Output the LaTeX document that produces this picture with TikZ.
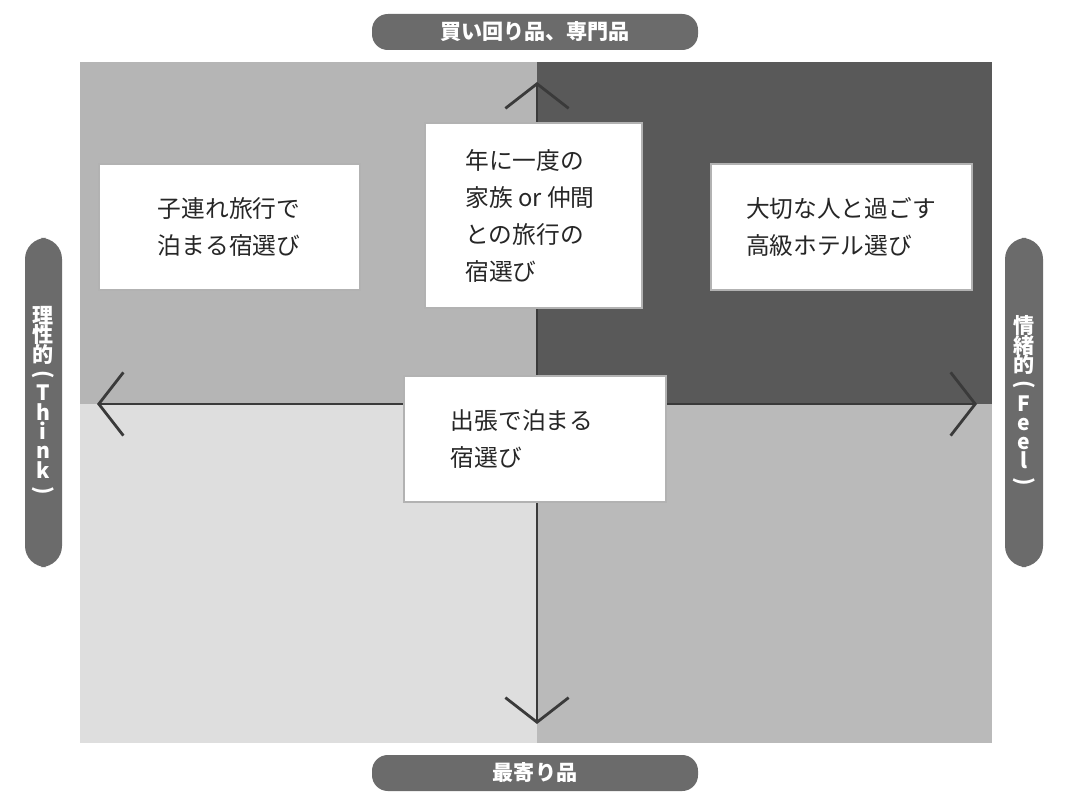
\documentclass[tikz,border=0pt]{standalone}
\usepackage{fontspec}
\setmainfont{Noto Sans CJK JP}
\usepackage{graphicx}
\usetikzlibrary{arrows.meta}
\definecolor{pillgray}{HTML}{6B6B6B}
\definecolor{axisgray}{HTML}{3A3A3A}
\newcommand{\vpar}[1]{\rotatebox[origin=c]{-90}{#1}}

\begin{document}
\begin{tikzpicture}[x=0.02cm,y=-0.02cm]
        \tikzset{
            pill/.style={fill=pillgray, rounded corners=9pt},
            pilltext/.style={text=white, font=\bfseries\fontsize{12}{13}\selectfont},
            card/.style={fill=white, draw=gray!60, line width=0.6pt},
            cardtext/.style={align=left, font=\fontsize{13.5}{21}\selectfont, text=black!85},
            axis/.style={draw=axisgray, line width=1.6pt, {Straight Barb[length=14pt,width=36pt]}-{Straight Barb[length=14pt,width=36pt]}}
        }
        \useasboundingbox (0,0) rectangle (1067,803);
        % quadrants
        \fill[black!29] (80,62) rectangle (537,404);
        \fill[black!65] (537,62) rectangle (992,404);
        \fill[black!13] (80,404) rectangle (537,743);
        \fill[black!27] (537,404) rectangle (992,743);
        % axes
        \coordinate (north) at (537,82);
        \coordinate (south) at (537,724);
        \coordinate (west) at (97,404);
        \coordinate (east) at (977,404);
        \draw[axis] (north) -- (south);
        \draw[axis] (west) -- (east);
        % pills
        \fill[pill] (372,14) rectangle (698,50);
        \node[pilltext] (top) at (535,32) {買い回り品、専門品};
        \fill[pill] (372,755) rectangle (698,791);
        \node[pilltext] (bottom) at (535,773) {最寄り品};
        \fill[pill,rounded corners=12pt] (25,238) rectangle (62,567);
        \node[pilltext, align=center, inner sep=0pt] (left) at (43,402)
            {理\\[-2pt]性\\[-2pt]的\\[-2pt]\vpar{(}\\[-2pt]T\\[-2pt]h\\[-2pt]i\\[-2pt]n\\[-2pt]k\\[-2pt]\vpar{)}};
        \fill[pill,rounded corners=12pt] (1005,238) rectangle (1043,567);
        \node[pilltext, align=center, inner sep=0pt] (right) at (1024,402)
            {情\\[-2pt]緒\\[-2pt]的\\[-2pt]\vpar{(}\\[-2pt]F\\[-2pt]e\\[-2pt]e\\[-2pt]l\\[-2pt]\vpar{)}};
        % cards
        \draw[card] (99,164) rectangle (360,290);
        \node[cardtext] (family) at (229,227) {子連れ旅行で\\泊まる宿選び};
        \draw[card] (425,123) rectangle (642,308);
        \node[cardtext] (yearly) at (530,216) {年に一度の\\家族 or 仲間\\との旅行の\\宿選び};
        \draw[card] (711,164) rectangle (972,290);
        \node[cardtext] (luxury) at (841,227) {大切な人と過ごす\\高級ホテル選び};
        \draw[card] (404,376) rectangle (666,502);
        \node[cardtext] (business) at (522,439) {出張で泊まる\\宿選び};
\end{tikzpicture}
\end{document}
